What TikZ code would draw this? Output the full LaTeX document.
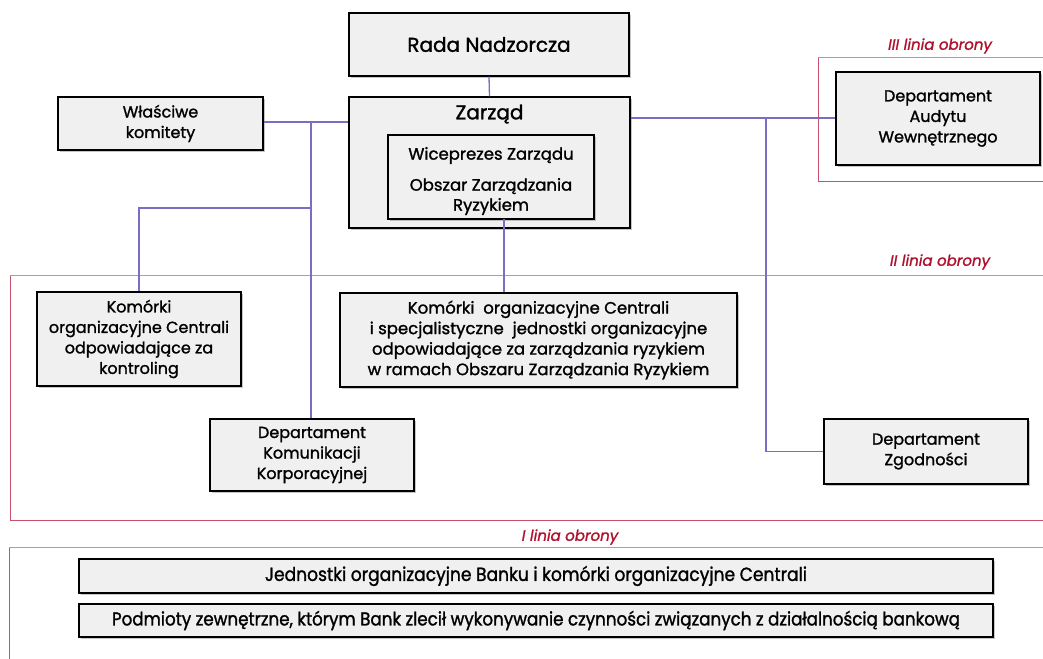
\documentclass[tikz,border=0pt]{standalone}
\usepackage{fontspec}
\setmainfont{Poppins}[FakeBold=1.3]
\newfontfamily\condfont{Poppins}[FakeStretch=0.9,FakeBold=1.3]
\usetikzlibrary{shadows}
\definecolor{conn}{HTML}{7B6CC4}
\definecolor{frametop}{HTML}{B09CA4}
\definecolor{frameside}{HTML}{C8506E}
\definecolor{lblred}{HTML}{B0102C}
\definecolor{boxfill}{HTML}{F0F0F0}
\begin{document}
\begin{tikzpicture}[x=1pt,y=-1pt,
  box/.style={draw=black, line width=1.4pt, fill=boxfill,
    drop shadow={shadow xshift=2pt, shadow yshift=-2pt, opacity=0.45},
    align=center, inner sep=0pt, font=\fontsize{16}{20.5}\selectfont},
  wire/.style={draw=conn, line width=1.3pt},
  frame/.style={draw=frameside, line width=0.8pt},
  frametopline/.style={draw=frametop, line width=0.9pt},
  linelabel/.style={text=lblred, font=\fontsize{15}{17}\selectfont\itshape, inner sep=0pt},
  bottombox/.style={box, font=\condfont\fontsize{19}{22}\selectfont}
]
\useasboundingbox (0,0) rectangle (1043,658);
% frames
\draw[frame] (1060,57) -- (818,57) -- (818,181) -- (1060,181);
\draw[frametopline] (818,57) -- (1060,57);
\draw[frame] (1060,275) -- (10,275) -- (10,520) -- (1060,520);
\draw[frametopline] (10,275) -- (1060,275);
\draw[frame] (1060,547) -- (9,547) -- (9,670);
\draw[frametopline] (9,547) -- (1060,547);
\node[linelabel] (l3) at (940,46) {III linia obrony};
\node[linelabel] (l2) at (940,262) {II linia obrony};
\node[linelabel] (l1) at (570,537) {I linia obrony};

% boxes
\node[box, minimum width=280pt, minimum height=63pt, font=\fontsize{20}{24}\selectfont] (rada) at (489,44.5) {Rada Nadzorcza};
\node[box, minimum width=281pt, minimum height=131pt] (zarzad) at (489.5,162.5) {};
\node[inner sep=0pt, font=\fontsize{20}{24}\selectfont] (zarzadt) at (489.5,114) {Zarząd};
\node[box, minimum width=206pt, minimum height=84pt] (inner) at (491,177) {};
\node[inner sep=0pt, align=center, font=\fontsize{16.5}{20}\selectfont] (innert) at (491,181) {Wiceprezes Zarządu\\[11pt]Obszar Zarządzania\\Ryzykiem};
\node[box, minimum width=205pt, minimum height=53pt] (wlasc) at (160.5,123.5) {Właściwe\\komitety};
\node[box, minimum width=204pt, minimum height=93pt] (audyt) at (938,118.5) {Departament\\Audytu\\Wewnętrznego};
\node[box, minimum width=204pt, minimum height=94pt] (kontr) at (139,339) {Komórki\\organizacyjne Centrali\\odpowiadające za\\kontroling};
\node[box, minimum width=397pt, minimum height=94pt, font=\fontsize{16.5}{20.5}\selectfont] (centr) at (538.5,340) {Komórki\ \ organizacyjne Centrali\\i specjalistyczne\ \ jednostki organizacyjne\\odpowiadające za zarządzania ryzykiem\\w ramach Obszaru Zarządzania Ryzykiem};
\node[box, minimum width=204pt, minimum height=72pt] (komun) at (312,455) {Departament\\Komunikacji\\Korporacyjnej};
\node[box, minimum width=204pt, minimum height=65pt] (zgod) at (926,451.5) {Departament\\Zgodności};
\node[bottombox, minimum width=914pt, minimum height=34pt] (jedn) at (536,576) {Jednostki organizacyjne Banku i komórki organizacyjne Centrali};
\node[bottombox, minimum width=914pt, minimum height=33pt, font=\condfont\fontsize{18.6}{22}\selectfont] (podm) at (536,620.5) {Podmioty zewnętrzne, którym Bank zlecił wykonywanie czynności związanych z działalnością bankową};

% connectors
\coordinate (j1) at (311,122);
\coordinate (j2) at (311,208);
\coordinate (j3) at (766,118);
\coordinate (ibot) at (504,219);
\draw[wire] (rada.south) -- (zarzad.north);
\draw[wire] (wlasc.east |- j1) -- (zarzad.west |- j1);
\draw[wire] (j1) -- (komun.north -| j1);
\draw[wire] (j2) -| (kontr.north);
\draw[wire] (ibot) -- (centr.north -| ibot);
\draw[wire] (zarzad.east |- j3) -- (audyt.west |- j3);
\draw[wire] (j3) |- (zgod.west);
\end{tikzpicture}
\end{document}
